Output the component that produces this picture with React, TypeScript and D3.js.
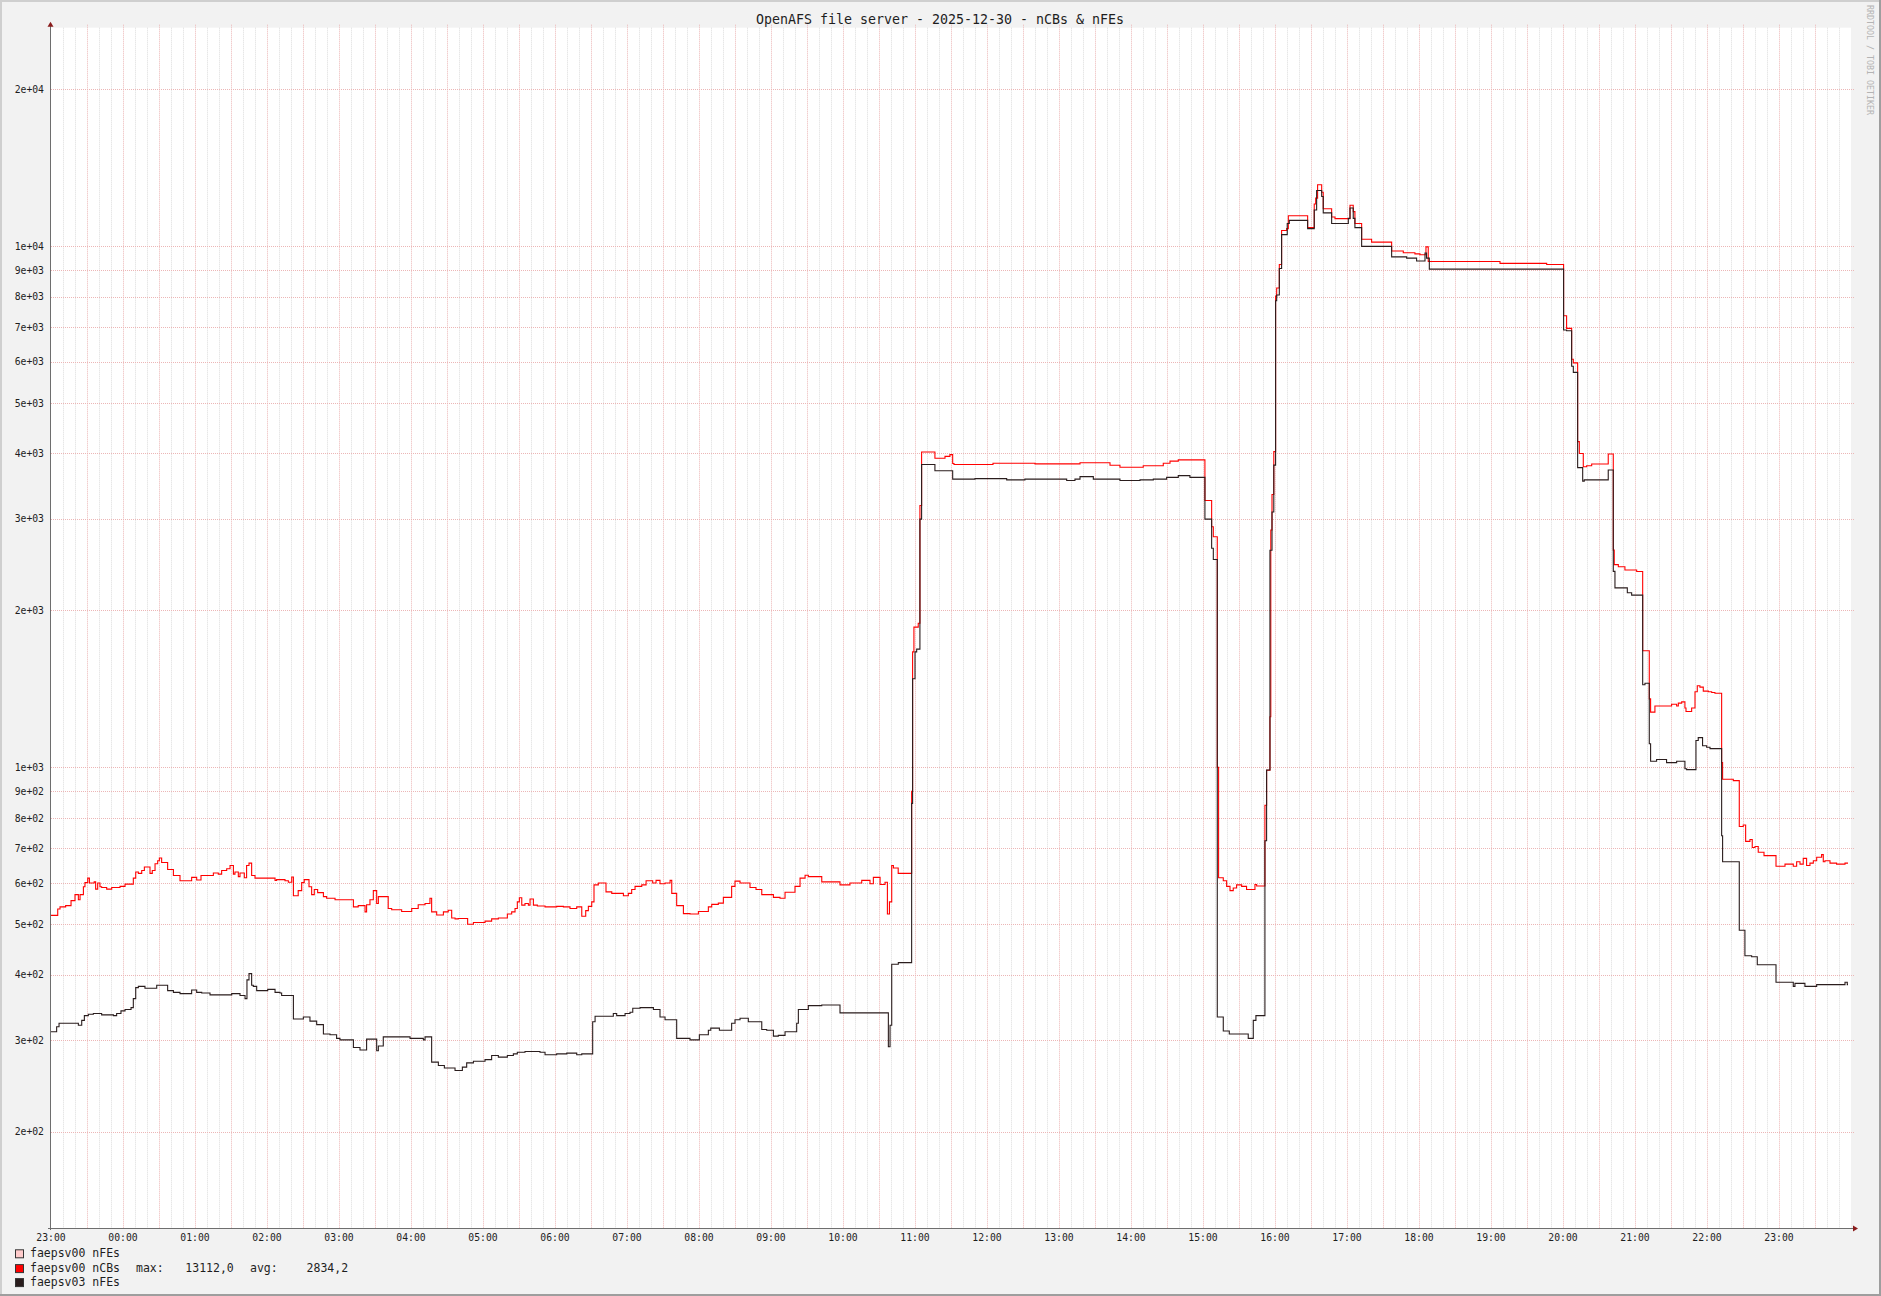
import React from 'react';
import * as d3 from 'd3';

// ---- data (time = minutes after 23:00 on 2025-12-29) ----
const title = 'OpenAFS file server - 2025-12-30 - nCBs & nFEs';

const hourLabels = ['23:00','00:00','01:00','02:00','03:00','04:00','05:00','06:00','07:00','08:00','09:00','10:00','11:00','12:00','13:00','14:00','15:00','16:00','17:00','18:00','19:00','20:00','21:00','22:00','23:00'];

const yTickValues = [200,300,400,500,600,700,800,900,1000,2000,3000,4000,5000,6000,7000,8000,9000,10000,20000];

const faepsv00_nCBs: [number, number][] = [
  [0,520],[5.6,535],[7.5,540],[12.2,543],[16.7,555],[20,570],[22.8,557],[24.2,570],[27,590],[28.3,601],[30.6,613],[32,600],[36,603],[37.2,584],[38.9,600],[40.8,590],[42.2,588],[46.4,584],[50.6,588],[57.5,591],[61.7,597],[68.6,613],[70.6,630],[72.8,626],[75.6,634],[77.8,644],[82.5,626],[84.4,634],[86.7,653],[88.9,662],[90.3,670],[92.2,657],[97.2,637],[102,620],[107.5,606],[117.2,615],[121.4,608],[125,620],[135.3,627],[139.4,624],[142.2,634],[146.4,639],[149.2,648],[152,624],[153.3,630],[156.1,617],[157.5,627],[161.1,614],[163,648],[165,655],[167.2,620],[170,613],[186.7,607],[188,609],[195,606],[197.8,602],[200.6,616],[202,567],[206,580],[208.9,601],[211,609],[215,590],[217.2,570],[219.4,583],[222.2,575],[227,565],[229.7,561],[236.7,557],[252,540],[256,543],[261.7,528],[263,545],[265.8,557],[268.6,580],[271.4,548],[272.8,565],[281,536],[283.9,533],[292.2,529],[300.6,536],[306,545],[311.7,548],[315.8,561],[317.2,528],[321.4,521],[327,528],[331,532],[333.9,514],[336.7,512],[339.4,513],[347.2,500],[352,504],[361.7,507],[367.2,512],[372.8,514],
  [380.3,523],[383.9,528],[386.7,536],[388.6,552],[390.3,562],[392.3,544],[395,548],[397.8,544],[399.2,559],[402,544],[405.3,542],[411.7,540],[421.4,541],[427,540],[432.5,536],[438.1,540],[442.3,518],[445.6,531],[447.8,541],[450.6,552],[452.5,595],[456.1,600],[462.5,577],[467.3,573],[477,567],[481.1,573],[483.9,583],[486.7,591],[492.3,595],[495.9,606],[501.4,600],[504.2,607],[507.5,598],[511.7,600],[515.9,607],[517.3,573],[521.4,543],[527,524],[532.5,523],[539.5,529],[547.8,540],[550.6,546],[556.1,549],[560.3,563],[567.2,591],[570,605],[574.2,600],[582.5,588],[587.5,583],[592.3,570],[602,563],[607.5,561],[611.7,576],[620,591],[624.2,613],[628.4,621],[631.1,617],[642.3,603],[657.5,595],[665.8,600],[675.6,607],[682.5,598],[685.3,615],[690.9,596],[695,602],[697,523],[698.7,552],[700.6,648],[702,641],[706,626],
  [717.2,900],[718,1665],[719.1,1858],[722.7,1890],[724.1,3178],[725.5,4027],[736.6,3917],[745,3950],[749.1,3980],[751.4,3828],[752.5,3810],[785,3830],[820,3820],[857.5,3840],[882.5,3798],[890.8,3763],[910.2,3790],[926.9,3830],[932.5,3867],[939.4,3888],[961.6,3250],[967.2,2895],[968.6,2770],[971.9,1000],[973,614],[976.9,606],[979.7,591],[982.5,580],[985.2,587],[988,595],[992.2,591],[996.3,583],[1003.3,596],[1004.7,592],[1011.6,846],[1013,987],[1015.8,1250],[1016.5,2852],[1017.5,3338],[1019,4033],[1020.5,8017],[1021.4,8310],[1023.6,9220],[1025.5,10714],[1029.7,10800],[1031.1,11435],[1047.2,10850],[1052.7,12040],[1053.9,12360],[1055.5,13112],[1058.9,12680],[1060.2,11790],[1067.2,11370],[1070,11290],[1082.5,11976],[1085.2,11645],[1086.6,11050],[1092.2,10305],[1100.5,10174],[1117.2,9786],[1126.9,9710],[1136.6,9660],[1140.8,9620],[1145.8,9965],[1147.7,9340],[1207.5,9265],[1246.4,9220],
  [1260.5,7350],[1263,6950],[1267.2,6065],[1268.6,5970],[1272.2,4215],[1273.6,4000],[1276.9,3773],[1279.7,3790],[1283.9,3819],[1297.7,3990],[1301.9,2610],[1302.7,2448],[1306.1,2425],[1311.6,2391],[1321.4,2375],[1326.4,1674],[1331.9,1353],[1333,1276],[1336.6,1311],[1350.5,1321],[1354.7,1311],[1356.1,1328],[1358.9,1335],[1361.6,1300],[1362.5,1280],[1367.2,1300],[1370,1396],[1371.9,1434],[1374.1,1425],[1376.9,1400],[1381.1,1396],[1383.9,1392],[1386.6,1387],[1392.2,1021],[1393,949],[1401.9,943],[1406.9,770],[1410.2,775],[1412.2,721],[1415.8,727],[1417.7,702],[1420,705],[1422.7,687],[1427.5,677],[1437.5,646],[1445,652],[1451.9,646],[1454.7,659],[1457.5,652],[1460.2,669],[1463,648],[1465.8,655],[1468.6,662],[1471.4,672],[1475.5,680],[1476.9,659],[1478.3,662],[1482.5,655],[1488,652],[1495,655],[1497.5,655]
];

const faepsv03_nFEs: [number, number][] = [
  [0,311],[4.7,318],[6.7,323],[22.8,320],[25.6,327],[27.8,334],[31.1,336],[35.3,337],[42.2,335],[52,334],[54.7,337],[58.3,341],[61.7,343],[66.7,346],[68.6,360],[70.6,378],[72.8,380],[78.3,377],[88.1,382],[97.2,373],[102,370],[107.5,368],[117.2,374],[121.4,370],[125.6,369],[132.5,366],[150.6,368],[157.5,365],[161.7,360],[163.3,391],[165,402],[167.2,382],[168.6,380],[171.4,373],[180.6,375],[186.7,370],[190.8,369],[192.2,365],[202,329],[210.3,332],[215.8,326],[221.4,321],[227,308],[232.5,307],[238,302],[240.8,300],[252,290],[257.5,287],[263,301],[271.4,286],[272.8,292],[276.9,304],[299.2,302],[310.3,300],[311.7,304],[317.2,272],[322.8,268],[327.8,265],[336.7,262],[342.8,266],[346.4,271],[352,273],[361.7,275],[367.2,280],[372.8,278],
  [380.3,280],[385.3,282],[388.6,284],[395,285],[407.5,284],[411.7,281],[421.4,282],[429.8,283],[438.1,281],[442.3,282],[451.4,325],[453.4,333],[468.6,337],[471.4,334],[478.4,337],[482.5,339],[484.8,345],[490.9,346],[502,343],[507.5,332],[511.7,328],[521.4,302],[532.5,300],[540.3,307],[547.8,313],[549.8,316],[557,313],[567.2,323],[570,328],[574.2,330],[581.1,325],[592.3,314],[596.4,313],[602,305],[606.1,306],[611.7,311],[621.4,323],[622.8,343],[631.1,349],[642.3,350],[657.5,338],[697.8,291],[699.2,320],[700.6,419],[706.1,422],
  [717.2,853],[718,1479],[720,1665],[721.4,1686],[724.1,2993],[725.5,3811],[736.6,3706],[751.4,3572],[770,3580],[796.4,3560],[811.6,3572],[846.4,3550],[853.3,3572],[857.5,3612],[868.6,3572],[890.8,3550],[907.5,3560],[918.6,3572],[929.7,3600],[939.4,3628],[949.1,3600],[961.6,2993],[967.2,2632],[968.6,2505],[971.9,332],[976.9,312],[981.9,308],[997.7,302],[1001.9,327],[1004.1,334],[1011.6,723],[1013,988],[1015.8,2609],[1017.5,3088],[1019,3800],[1020.5,7852],[1021.4,8054],[1023.6,9055],[1025.5,10520],[1030.2,11050],[1031.9,11200],[1047.2,10800],[1052.7,11730],[1054.7,12780],[1058.9,12450],[1060.2,11580],[1067.2,11050],[1081.1,11300],[1082.5,11830],[1085.2,11300],[1086.6,10850],[1092.2,9987],[1117.2,9535],[1129.7,9480],[1138,9360],[1145,9700],[1146.3,9480],[1148.6,9030],
  [1260.5,6900],[1263,6880],[1267.2,5880],[1268.6,5723],[1272.2,3758],[1276.4,3540],[1277.7,3560],[1297.7,3718],[1301.9,2376],[1303.3,2209],[1313.6,2163],[1317.2,2140],[1326.4,1440],[1328.3,1450],[1331.9,1110],[1333,1027],[1338,1035],[1346.3,1021],[1354.7,1027],[1361.6,994],[1363,990],[1370.8,1126],[1372.7,1140],[1376.3,1100],[1379.7,1093],[1382.5,1086],[1392.2,739],[1393,659],[1406.9,487],[1411.6,435],[1417.2,433],[1421.9,418],[1437.5,387],[1451.9,380],[1453.3,385],[1461.6,380],[1471.4,383],[1495,387],[1496.9,383],[1497.5,383]
];

const legendLabels = ['faepsv00 nFEs', 'faepsv00 nCBs', 'faepsv03 nFEs'];
const legendColors = ['#ffcccc', '#ff0000', '#2a1d1d'];
const statsLabels = ['max:', '13112,0', 'avg:', '2834,2'];
const watermark = 'RRDTOOL / TOBI OETIKER';

// ---- layout ----
const W = 1881, H = 1296;
const L = 51, R = 1851, T = 27.7, B = 1228;
const FONT = '"DejaVu Sans Mono", monospace';

function fmtExp(v: number) {
  const e = Math.floor(Math.log10(v) + 1e-9);
  const m = Math.round(v / Math.pow(10, e));
  return `${m}e+${String(e).padStart(2, '0')}`;
}

export default function App() {
  const x = d3.scaleLinear().domain([0, 1500]).range([L, R]);
  const y = d3.scaleLog().domain([130.7, 26235]).range([B, T]);
  const line = d3.line<[number, number]>().x(d => x(d[0])).y(d => y(d[1])).curve(d3.curveStepAfter);

  const minorTicks = d3.range(10, 1500, 10).filter(m => m % 30 !== 0);
  const majorTicks = d3.range(30, 1500, 30);
  const labelTicks = hourLabels.map((_, i) => i * 60);

  const legendBase = [1257.4, 1272.2, 1286.2];

  return (
    <div style={{ position: 'absolute', left: 0, top: 0 }}>
      <svg width={W} height={H} style={{ display: 'block' }} fontFamily={FONT}>
        <rect x={0} y={0} width={W} height={H} fill="#f2f2f2" />
        {/* frame */}
        <rect x={0} y={0} width={W} height={2} fill="#cfcfcf" />
        <rect x={0} y={0} width={2} height={H} fill="#cfcfcf" />
        <rect x={0} y={H - 2} width={W} height={2} fill="#9e9e9e" />
        <rect x={W - 2} y={0} width={2} height={H} fill="#9e9e9e" />
        {/* plot */}
        <rect x={L} y={T} width={R - L} height={B - T} fill="#ffffff" />
        {minorTicks.map(m => (
          <line key={'mi' + m} x1={Math.round(x(m)) + 0.5} x2={Math.round(x(m)) + 0.5} y1={T} y2={B}
            stroke="#dcdcdc" strokeWidth={1} strokeDasharray="1,1" />
        ))}
        {majorTicks.map(m => (
          <line key={'ma' + m} x1={Math.round(x(m)) + 0.5} x2={Math.round(x(m)) + 0.5} y1={T - 3} y2={B}
            stroke="#ecb6b6" strokeWidth={1} strokeDasharray="1,1" />
        ))}
        {yTickValues.map(v => (
          <line key={'h' + v} x1={L} x2={R + 4} y1={Math.round(y(v)) + 0.5} y2={Math.round(y(v)) + 0.5}
            stroke="#ecb6b6" strokeWidth={1} strokeDasharray="1,1" />
        ))}
        {/* series */}
        <path d={line(faepsv00_nCBs) || ''} fill="none" stroke={legendColors[1]} strokeWidth={1.1} />
        <path d={line(faepsv03_nFEs) || ''} fill="none" stroke={legendColors[2]} strokeWidth={1.1} />
        {/* axes */}
        <line x1={L - 0.5} x2={L - 0.5} y1={T - 4} y2={B + 2} stroke="#6e6e6e" strokeWidth={1} />
        <line x1={L - 3} x2={R + 4} y1={B + 0.5} y2={B + 0.5} stroke="#6e6e6e" strokeWidth={1} />
        <path d={`M${L - 3.5},${T - 1} L${L + 2.5},${T - 1} L${L - 0.5},${T - 6} Z`} fill="#8a1c1c" />
        <path d={`M${R + 2},${B - 2.5} L${R + 2},${B + 3.5} L${R + 7},${B + 0.5} Z`} fill="#8a1c1c" />
        {/* y labels */}
        {yTickValues.map(v => (
          <text key={'yl' + v} x={44} y={y(v) + 3.7} textAnchor="end" fontSize={9.75} fill="#1e1e1e">{fmtExp(v)}</text>
        ))}
        {/* x labels */}
        {labelTicks.map((m, i) => (
          <text key={'xl' + i} x={x(m)} y={1240.5} textAnchor="middle" fontSize={9.75} fill="#1e1e1e">{hourLabels[i]}</text>
        ))}
        {/* title */}
        <text x={940} y={23.5} textAnchor="middle" fontSize={13.3} fill="#1e1e1e">{title}</text>
        {/* watermark */}
        <text transform="translate(1870,5) rotate(90)" fontSize={8.3} fill="#b4b4b4" dominantBaseline="central">{watermark}</text>
        {/* legend */}
        {legendLabels.map((lab, i) => (
          <g key={'lg' + i}>
            <rect x={15.5} y={legendBase[i] - 7.6} width={8} height={8} fill={legendColors[i]} stroke="#333" strokeWidth={1} />
            <text x={30} y={legendBase[i]} fontSize={11.5} fill="#1e1e1e">{lab}</text>
          </g>
        ))}
        <text x={136} y={legendBase[1]} fontSize={11.5} fill="#1e1e1e">{statsLabels[0]}</text>
        <text x={185.3} y={legendBase[1]} fontSize={11.5} fill="#1e1e1e">{statsLabels[1]}</text>
        <text x={250} y={legendBase[1]} fontSize={11.5} fill="#1e1e1e">{statsLabels[2]}</text>
        <text x={306.6} y={legendBase[1]} fontSize={11.5} fill="#1e1e1e">{statsLabels[3]}</text>
      </svg>
    </div>
  );
}
